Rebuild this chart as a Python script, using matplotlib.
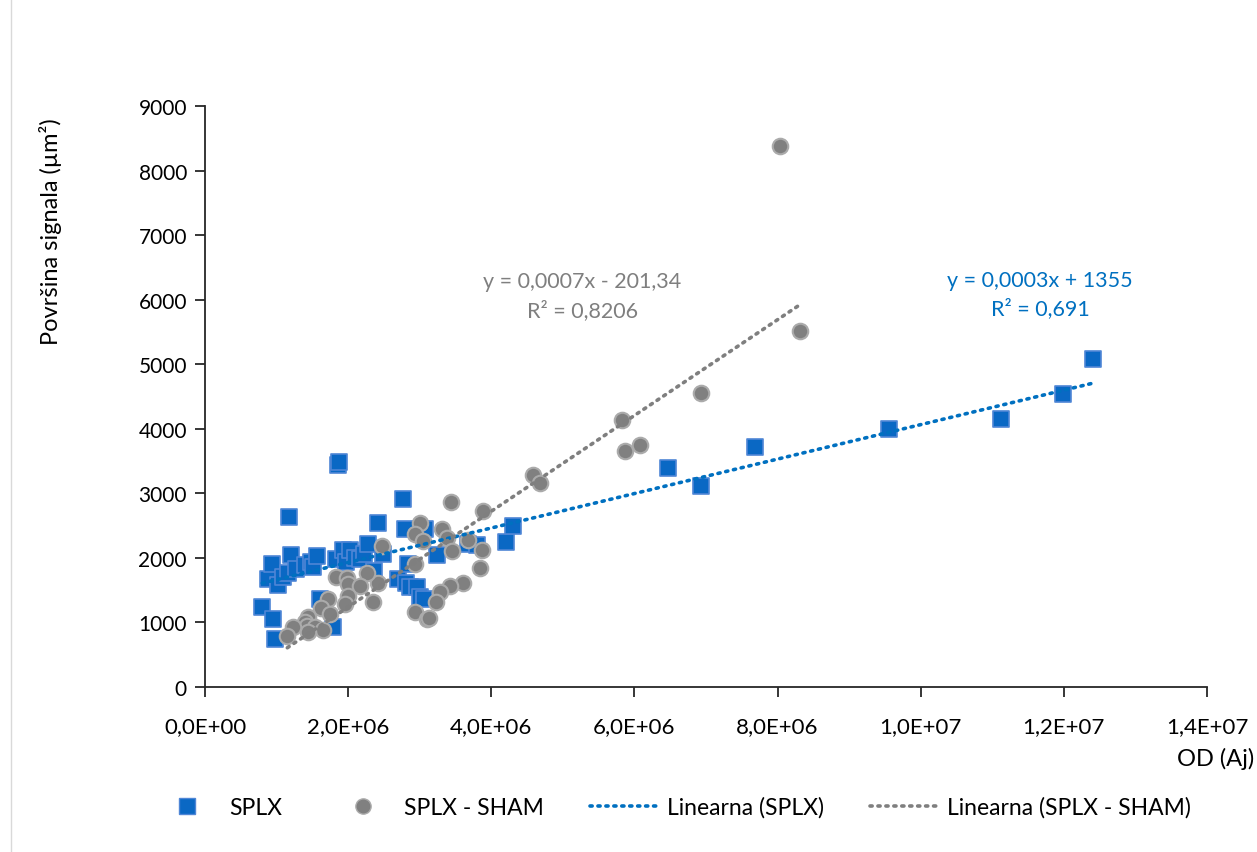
import numpy as np
import matplotlib
matplotlib.use("Agg")
import matplotlib.pyplot as plt
from matplotlib.ticker import FuncFormatter, MultipleLocator
from matplotlib.lines import Line2D

plt.rcParams["font.family"] = ["Lato", "DejaVu Sans"]

# SPLX (OD in units of 1e6, area in um2)
splx_x = np.array([0.80, 0.88, 0.94, 0.95, 0.98, 1.02, 1.09, 1.16, 1.17, 1.20,
                   1.27, 1.40, 1.48, 1.51, 1.56, 1.61, 1.79, 1.83, 1.86, 1.87,
                   1.93, 1.97, 2.03, 2.10, 2.17, 2.22, 2.28, 2.36, 2.42, 2.49,
                   2.70, 2.77, 2.79, 2.81, 2.84, 2.86, 2.96, 3.00, 3.06, 3.07,
                   3.24, 3.67, 3.80, 4.21, 4.30, 6.47, 6.93, 7.68, 9.56, 11.12,
                   11.99, 12.41]) * 1e6
splx_y = np.array([1239, 1673, 1905, 1053, 744, 1580, 1704, 1766, 2633, 2045,
                   1828, 1890, 1936, 1859, 2029, 1363, 929, 1983, 3439, 3485,
                   2122, 1936, 2122, 1998, 1983, 2060, 2215, 1797, 2540, 2060,
                   1673, 2912, 2447, 1611, 1905, 1549, 1549, 1394, 1363, 2447,
                   2045, 2215, 2200, 2246, 2494, 3392, 3113, 3718, 3997, 4151,
                   4539, 5081])

# SPLX - SHAM
sham_x = np.array([8.03, 8.31, 6.93, 5.83, 5.87, 6.08, 4.58, 4.68, 3.44, 3.88,
                   3.00, 2.93, 3.05, 3.31, 3.38, 3.45, 3.68, 3.87, 3.84, 3.61,
                   2.93, 2.47, 2.42, 3.42, 3.28, 3.23, 2.93, 3.10, 3.13, 1.83,
                   1.98, 2.26, 2.00, 2.17, 2.00, 2.35, 1.96, 1.72, 1.62, 1.75,
                   1.44, 1.40, 1.43, 1.54, 1.65, 1.44, 1.23, 1.15]) * 1e6
sham_y = np.array([8380, 5514, 4554, 4136, 3656, 3749, 3284, 3160, 2865, 2726,
                   2540, 2370, 2262, 2447, 2308, 2107, 2277, 2122, 1843, 1611,
                   1905, 2184, 1611, 1564, 1471, 1316, 1161, 1053, 1068, 1704,
                   1689, 1766, 1595, 1564, 1409, 1316, 1285, 1363, 1223, 1130,
                   1079, 1002, 945, 929, 877, 851, 929, 790])

blue = "#0A68C4"
blue_edge = "#4F86D6"
grey = "#808080"
grey_edge = "#ABABAB"
blue_line = "#0070C0"
grey_line = "#7F7F7F"

fig = plt.figure(figsize=(12.57, 8.53), dpi=100)
ax = fig.add_axes([0.1631, 0.1934, 0.7971, 0.6812])

ax.scatter(splx_x, splx_y, marker="s", s=140, color=blue, edgecolors=blue_edge,
           linewidths=1.2, zorder=3)
ax.scatter(sham_x, sham_y, marker="o", s=125, color=grey, edgecolors=grey_edge,
           linewidths=1.5, zorder=4)

# linear trend lines
dots = (0, (0.6, 1.6))
k1, b1 = np.polyfit(splx_x, splx_y, 1)
xx1 = np.array([splx_x.min(), splx_x.max()])
ax.plot(xx1, k1 * xx1 + b1, color=blue_line, lw=2.6, linestyle=dots,
        dash_capstyle="round", zorder=5)
k2, b2 = np.polyfit(sham_x, sham_y, 1)
xx2 = np.array([sham_x.min(), sham_x.max()])
ax.plot(xx2, k2 * xx2 + b2, color=grey_line, lw=2.6, linestyle=dots,
        dash_capstyle="round", zorder=5)

ax.set_xlim(0, 1.4e7)
ax.set_ylim(0, 9000)
ax.xaxis.set_major_locator(MultipleLocator(2e6))
ax.yaxis.set_major_locator(MultipleLocator(1000))


def sci_fmt(v, pos):
    s = "%.1E" % v
    mant, ex = s.split("E")
    sign = ex[0]
    return mant.replace(".", ",") + "E" + sign + ex[1:].zfill(2)


ax.xaxis.set_major_formatter(FuncFormatter(sci_fmt))
for side in ["top", "right"]:
    ax.spines[side].set_visible(False)
for side in ["left", "bottom"]:
    ax.spines[side].set_color("#262626")
    ax.spines[side].set_linewidth(1.3)
ax.tick_params(axis="both", direction="out", length=7, width=1.3, color="#262626",
               labelcolor="black")
ax.tick_params(axis="x", pad=14, labelsize=16)
ax.tick_params(axis="y", pad=6, labelsize=15)

ax.set_ylabel("Površina signala (µm²)", fontsize=17)
ax.yaxis.set_label_coords(-0.1427, 0.785)
fig.text(0.998, 0.110, "OD (Aj)", fontsize=17, ha="right", va="center")

ax.text(5.27e6, 6290, "y = 0,0007x - 201,34", color=grey_line, fontsize=15.5,
        ha="center", va="center")
ax.text(5.27e6, 5840, "R² = 0,8206", color=grey_line, fontsize=15.5,
        ha="center", va="center")
ax.text(1.167e7, 6310, "y = 0,0003x + 1355", color=blue_line, fontsize=15.5,
        ha="center", va="center")
ax.text(1.167e7, 5870, "R² = 0,691", color=blue_line, fontsize=15.5,
        ha="center", va="center")

handles = [
    Line2D([], [], marker="s", color=blue, markeredgecolor=blue_edge, linestyle="none",
           markersize=11),
    Line2D([], [], marker="o", color=grey, markeredgecolor=grey_edge, linestyle="none",
           markersize=11),
    Line2D([], [], color=blue_line, lw=2.6, linestyle=dots, dash_capstyle="round"),
    Line2D([], [], color=grey_line, lw=2.6, linestyle=dots, dash_capstyle="round"),
]
labels = ["SPLX", "SPLX - SHAM", "Linearna (SPLX)", "Linearna (SPLX - SHAM)"]
fig.legend(handles, labels, loc="center", bbox_to_anchor=(0.534, 0.053), ncol=4,
           frameon=False, fontsize=16.5, handlelength=3.05, handletextpad=0.3,
           columnspacing=2.0, borderpad=0, borderaxespad=0)

# light border of the chart area
fig.add_artist(Line2D([0.009, 0.009], [0, 1], color="#D9D9D9", lw=1,
                      transform=fig.transFigure))

fig.savefig("out.png", dpi=100)
